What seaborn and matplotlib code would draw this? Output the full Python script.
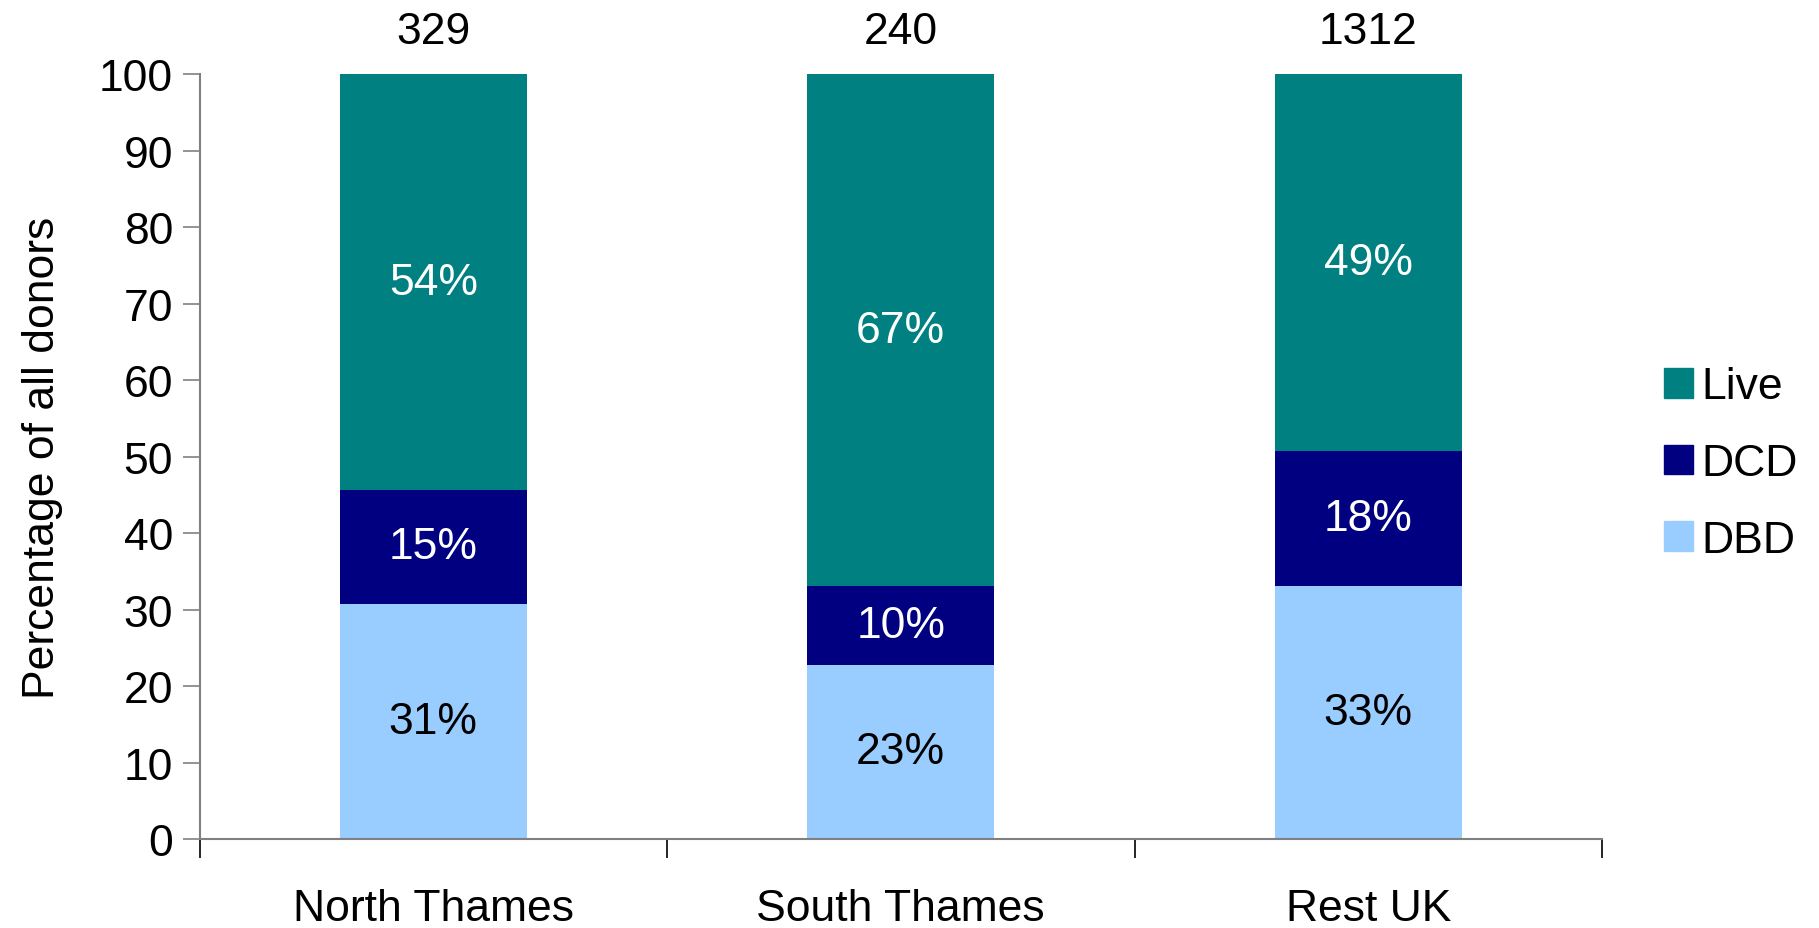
import matplotlib
matplotlib.use("Agg")
import matplotlib.pyplot as plt
import matplotlib.patches as mpatches
import pandas as pd
import seaborn as sns

# donor type shares per region (percent)
regions = ["North Thames", "South Thames", "Rest UK"]
dbd = [30.8, 22.8, 33.1]
dcd = [14.9, 10.3, 17.7]
live = [54.3, 66.9, 49.2]
totals = [329, 240, 1312]

col_live = "#008080"
col_dcd = "#000080"
col_dbd = "#99CCFF"

df = pd.DataFrame({"region": regions, "DBD": dbd, "DCD": dcd, "Live": live})
df["cum_dcd"] = df["DBD"] + df["DCD"]
df["cum_live"] = df["cum_dcd"] + df["Live"]

sns.set_style("white")
plt.rcParams["font.family"] = ["Liberation Sans", "DejaVu Sans"]
plt.rcParams["text.color"] = "black"
plt.rcParams["xtick.color"] = "black"
plt.rcParams["ytick.color"] = "black"
plt.rcParams["axes.labelcolor"] = "black"

fig = plt.figure(figsize=(18.19, 9.29), dpi=100)
ax = fig.add_axes([0.1097, 0.0958, 0.7710, 0.8230])

# stacked bars: draw cumulative heights back to front
for col, c in [("cum_live", col_live), ("cum_dcd", col_dcd), ("DBD", col_dbd)]:
    sns.barplot(data=df, x="region", y=col, color=c, width=0.4, ax=ax,
                saturation=1, linewidth=0, edgecolor="none")

fs = 32
for i in range(len(regions)):
    ax.text(i, df["DBD"][i] / 2, f"{round(dbd[i])}%", ha="center", va="center",
            fontsize=fs, color="black")
    ax.text(i, df["DBD"][i] + dcd[i] / 2, f"{round(dcd[i])}%", ha="center", va="center",
            fontsize=fs, color="white")
    ax.text(i, df["cum_dcd"][i] + live[i] / 2, f"{round(live[i])}%", ha="center",
            va="center", fontsize=fs, color="white")
    ax.text(i, 105.6, str(totals[i]), ha="center", va="center", fontsize=fs,
            color="black", clip_on=False)

ax.set_xlim(-0.5, 2.5)
ax.set_ylim(0, 100)
ax.set_yticks(range(0, 101, 10))
ax.set_xticks([-0.5, 0.5, 1.5, 2.5], minor=True)
ax.tick_params(axis="x", which="major", length=0, pad=35, labelsize=fs)
ax.tick_params(axis="x", which="minor", bottom=True, length=14, width=1.2,
               color="black", direction="out")
ax.tick_params(axis="y", length=12, width=1.2, color="#808080", pad=7, labelsize=fs,
               direction="out", left=True)
ax.set_xlabel("")
ax.set_ylabel("Percentage of all donors", fontsize=fs, labelpad=26)

sns.despine(ax=ax)
for s in ["left", "bottom"]:
    ax.spines[s].set_color("#808080")
    ax.spines[s].set_linewidth(1.5)

handles = [mpatches.Patch(color=col_live, label="Live"),
           mpatches.Patch(color=col_dcd, label="DCD"),
           mpatches.Patch(color=col_dbd, label="DBD")]
fig.legend(handles=handles, loc="center left", bbox_to_anchor=(0.905, 0.5),
           frameon=False, fontsize=fs, handlelength=0.65, handleheight=0.65,
           handletextpad=0.2, labelspacing=0.8, borderaxespad=0)

fig.savefig("out.png", dpi=100)
